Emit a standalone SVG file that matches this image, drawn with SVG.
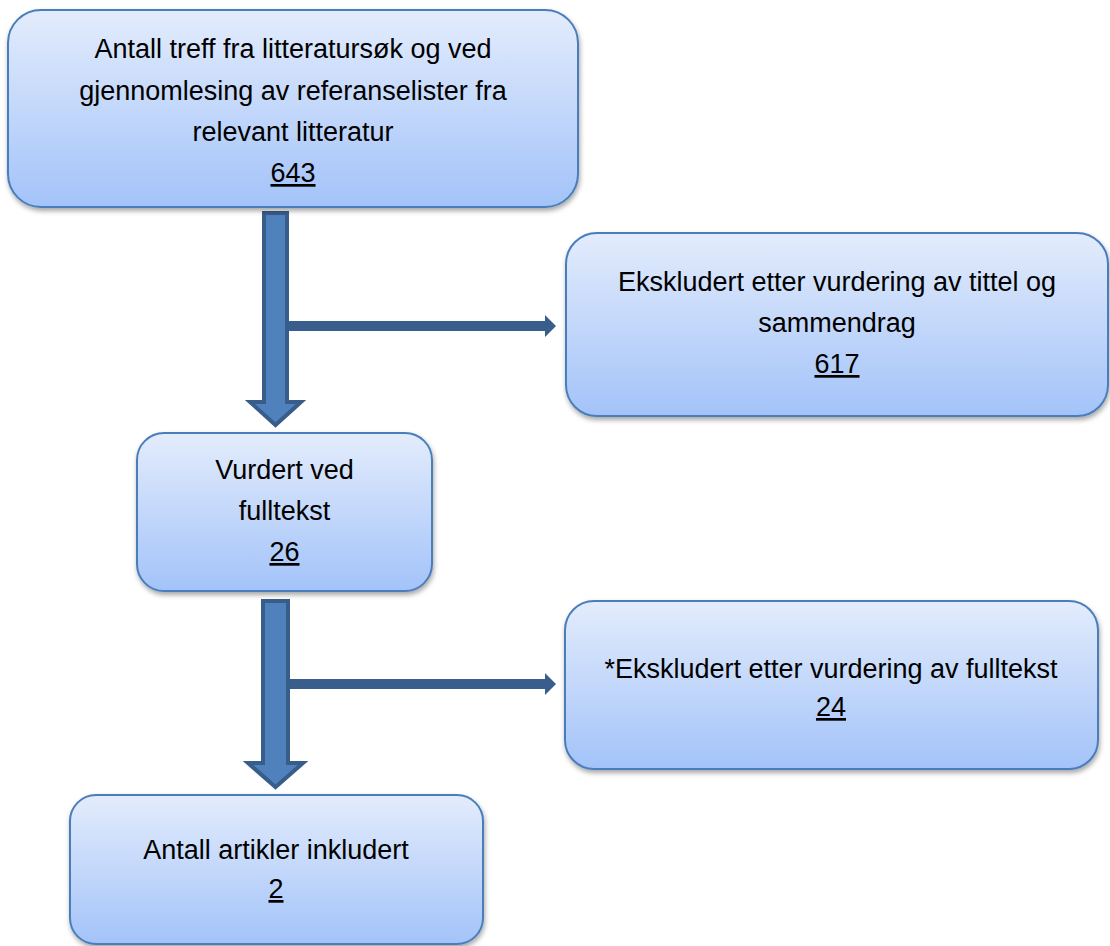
<svg xmlns="http://www.w3.org/2000/svg" width="1110" height="946" viewBox="0 0 1110 946">
<defs>
<linearGradient id="g" x1="0" y1="0" x2="0" y2="1">
<stop offset="0" stop-color="#E3ECFC"/>
<stop offset="1" stop-color="#A3C3F9"/>
</linearGradient>
<filter id="sh" x="-10%" y="-10%" width="120%" height="130%">
<feDropShadow dx="1" dy="3" stdDeviation="2.5" flood-color="#000" flood-opacity="0.35"/>
</filter>
<style>
.box{fill:url(#g);stroke:#4A7EBB;stroke-width:2;filter:url(#sh)}
.t{font-family:"Liberation Sans",Arial,sans-serif;font-size:27px;fill:#000;text-anchor:middle}
.u{text-decoration:underline}
.big{fill:#4F81BD;stroke:#385D8A;stroke-width:4;stroke-linejoin:miter}
.thin{fill:#3A5E8C}
</style>
</defs>
<g id="connectors">
<polygon class="big" points="264,213 287,213 287,402 301,402 275.5,425 250,402 264,402"/>
<polygon class="thin" points="289,321 545,321 545,315 556,326 545,337 545,331 289,331"/>
<polygon class="big" points="263,601 288,601 288,763 303,763 275.5,787 248,763 263,763"/>
<polygon class="thin" points="290,679 545,679 545,673 556,684 545,695 545,689 290,689"/>
</g>
<g id="n1">
<rect class="box" x="8" y="10" width="570" height="197" rx="33"/>
<text class="t" x="293" y="58">Antall treff fra litteratursøk og ved</text>
<text class="t" x="293" y="100">gjennomlesing av referanselister fra</text>
<text class="t" x="293" y="141">relevant litteratur</text>
<text class="t u" x="293" y="182">643</text>
</g>
<g id="n2">
<rect class="box" x="566" y="233" width="542" height="183" rx="31"/>
<text class="t" x="837" y="291">Ekskludert etter vurdering av tittel og</text>
<text class="t" x="837" y="332">sammendrag</text>
<text class="t u" x="837" y="373">617</text>
</g>
<g id="n3">
<rect class="box" x="137" y="433" width="295" height="158" rx="27"/>
<text class="t" x="284.5" y="479">Vurdert ved</text>
<text class="t" x="284.5" y="520">fulltekst</text>
<text class="t u" x="284.5" y="561">26</text>
</g>
<g id="n4">
<rect class="box" x="565" y="601" width="533" height="168" rx="29"/>
<text class="t" x="831" y="678">*Ekskludert etter vurdering av fulltekst</text>
<text class="t u" x="831" y="716">24</text>
</g>
<g id="n5">
<rect class="box" x="70" y="795" width="413" height="149" rx="26"/>
<text class="t" x="276" y="859">Antall artikler inkludert</text>
<text class="t u" x="276" y="898">2</text>
</g>
</svg>
